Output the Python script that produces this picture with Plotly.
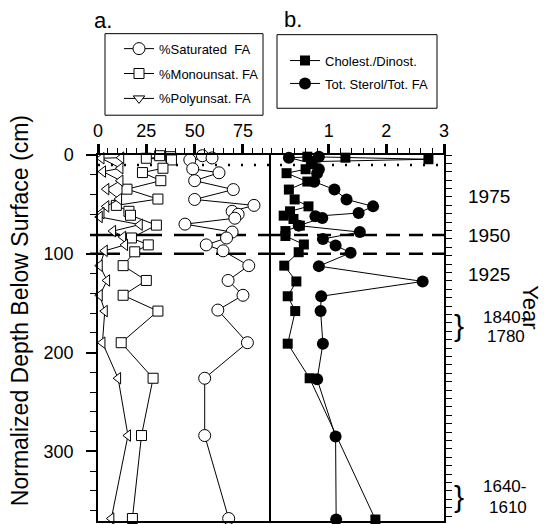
import plotly.graph_objects as go

# ---------------- data ----------------
sat_depth = [0.7, 3, 5, 14, 18, 26, 35, 45, 51, 57, 60, 64, 70, 78, 84, 91, 97, 112, 127, 142, 157, 190, 226, 284, 368]
sat_val = [54, 59, 47.5, 49, 62.6, 50, 70, 50, 80.7, 69.4, 72.5, 70.8, 45, 69.4, 66.5, 56, 64.7, 78, 67.3, 75, 62, 77.3, 55.2, 55.2, 67.6]

mono_depth = [0.7, 1.7, 3.3, 5, 13.4, 17.8, 26, 34.6, 44.6, 51, 57, 61, 71, 84, 91, 98, 112, 127, 142, 158, 190, 226, 284, 368]
mono_val = [31.9, 37.6, 25, 38, 33.6, 23, 32.5, 15, 31, 9.5, 16, 16.8, 30.2, 17.3, 26, 19, 13, 25, 13, 31, 12, 28.5, 22.5, 17.8]

poly_depth = [2.7, 3.3, 13.4, 16.8, 26, 34.6, 44.6, 52, 58.7, 62.7, 70.5, 77, 83, 91, 97, 112, 127, 142, 158, 190, 226, 284, 368]
poly_val = [12, 1.8, 11.6, 2.6, 11.6, 4.3, 10.9, 4.3, 1.8, 0.9, 21.6, 7.8, 13, 14, 3.5, 0.9, 4.7, 0.9, 3.5, 2.3, 10.4, 15.5, 6.9]

chol_depth = [1.7, 2.7, 4.3, 6.7, 14.4, 18.4, 26.9, 35, 45, 52, 57, 61.4, 64.8, 71.5, 77, 82, 90.6, 98.4, 112, 128, 143, 158, 191, 226, 369]
chol_val = [0.63, 1.29, 2.73, 0.71, 0.6, 0.27, 0.63, 0.31, 0.41, 0.65, 0.33, 0.22, 0.39, 0.5, 0.25, 0.25, 0.57, 0.48, 0.23, 0.44, 0.29, 0.42, 0.29, 0.67, 1.81]

ster_depth = [1.7, 2.7, 8.4, 14.4, 18.4, 27, 35, 45, 52, 58.7, 62, 63.7, 71.5, 78, 85, 91.6, 99, 112.5, 128, 143, 158, 191, 227, 285, 369]
ster_val = [0.83, 0.31, 0.71, 0.83, 0.8, 0.75, 1.1, 1.31, 1.77, 1.52, 0.77, 0.89, 0.48, 1.54, 0.9, 1.12, 1.38, 0.83, 2.63, 0.87, 0.86, 0.9, 0.8, 1.12, 1.13]

a_ticks = [0, 25, 50, 75]
b_ticks = [1, 2, 3]
depth_ticks = [0, 100, 200, 300]

year_labels = ["1975", "1950", "1925", "1840-", "1780", "1640-", "1610"]
year_depths = [42, 81.5, 121, 164, 184, 336, 357]
year_dx = [0, 0, 0, 15, 19, 15, 21]
brace_depths = [173, 346]

dotted_depth = 10
dashed_depths = [81, 100]

FONT = "Liberation Sans, Arial, Helvetica, sans-serif"

fig = go.Figure()

def open_trace(x, y, sym, name, showlegend=True, size=11):
    return go.Scatter(
        x=x, y=y, mode="lines+markers", name=name,
        line=dict(color="black", width=1),
        marker=dict(symbol=sym, size=size, color="white", line=dict(color="black", width=1)),
        xaxis="x", yaxis="y", cliponaxis=False, showlegend=showlegend,
        legend="legend", legendgroup=name,
    )

fig.add_trace(open_trace(sat_val, sat_depth, "circle", "%Saturated  FA", size=12))
fig.add_trace(open_trace(mono_val, mono_depth, "square", "%Monounsat. FA", size=10))
# legend-only entry (legend symbol differs from plotted marker)
fig.add_trace(open_trace([None], [None], "triangle-down", "%Polyunsat. FA", size=10))
fig.add_trace(open_trace(poly_val, poly_depth, "triangle-left", "poly", showlegend=False, size=10))

def filled_trace(x, y, sym, name, size):
    return go.Scatter(
        x=x, y=y, mode="lines+markers", name=name,
        line=dict(color="black", width=1),
        marker=dict(symbol=sym, size=size, color="black", line=dict(color="black", width=0)),
        xaxis="x2", yaxis="y2", cliponaxis=False,
        legend="legend2", legendgroup=name,
    )

fig.add_trace(filled_trace(chol_val, chol_depth, "square", "Cholest./Dinost.", 10))
fig.add_trace(filled_trace(ster_val, ster_depth, "circle", "Tot. Sterol/Tot. FA", 12))

L, R, T, B = 98, 100, 155, 1
W = 544 - L - R
H = 524 - T - B

def fx(px):
    return (px - L) / W

def fy(py):
    return (524 - B - py) / H

axis_common = dict(
    showline=True, linecolor="black", linewidth=1.5, showgrid=False, zeroline=False,
    ticks="outside", tickcolor="black", tickwidth=2.5, ticklen=9,
    tickfont=dict(family=FONT, size=18, color="black"),
)

fig.update_layout(
    width=544, height=524,
    margin=dict(l=L, r=R, t=T, b=B, pad=0),
    paper_bgcolor="white", plot_bgcolor="white",
    font=dict(family=FONT, color="black"),
    xaxis=dict(domain=[0, 0.5], range=[0, 89.5], side="top", anchor="y", mirror=True,
               tickmode="array", tickvals=a_ticks, ticklabelstandoff=0,
               minor=dict(dtick=5, tick0=0, ticks="outside", ticklen=5, tickwidth=1, tickcolor="black"),
               **axis_common),
    xaxis2=dict(domain=[0.5, 1], range=[0, 3], side="top", anchor="y2", mirror=True,
                tickmode="array", tickvals=b_ticks, ticklabelstandoff=0,
                minor=dict(dtick=0.2, tick0=0, ticks="outside", ticklen=5, tickwidth=1, tickcolor="black"),
                **axis_common),
    yaxis=dict(domain=[0, 1], range=[370.5, 0], anchor="x",
               tickmode="array", tickvals=depth_ticks, ticklabelstandoff=9,
               minor=dict(dtick=20, tick0=0, ticks="outside", ticklen=6, tickwidth=1, tickcolor="black"),
               **{**axis_common, "ticklen": 10, "tickwidth": 1.5}),
    yaxis2=dict(domain=[0, 1], range=[370.5, 0], anchor="x2", side="right", mirror=True,
                showline=True, linecolor="black", linewidth=1.5, showgrid=False, zeroline=False,
                ticks="outside", tickcolor="black", tickwidth=1, ticklen=6,
                tickmode="linear", tick0=0, dtick=8.5, showticklabels=False),
    legend=dict(x=fx(119), y=fy(33), xanchor="left", yanchor="top",
                font=dict(family=FONT, size=13, color="black"),
                bgcolor="rgba(0,0,0,0)", borderwidth=0, tracegroupgap=5, itemwidth=30),
    legend2=dict(x=fx(285), y=fy(45), xanchor="left", yanchor="top",
                 font=dict(family=FONT, size=13, color="black"),
                 bgcolor="rgba(0,0,0,0)", borderwidth=0, tracegroupgap=3, itemwidth=30),
)

shapes = []
# legend boxes
shapes.append(dict(type="rect", xref="paper", yref="paper", x0=fx(105), x1=fx(263), y0=fy(33), y1=fy(115),
                   line=dict(color="black", width=1), fillcolor="rgba(0,0,0,0)"))
shapes.append(dict(type="rect", xref="paper", yref="paper", x0=fx(277), x1=fx(437), y0=fy(34), y1=fy(108),
                   line=dict(color="black", width=1), fillcolor="rgba(0,0,0,0)"))
# dotted reference line
shapes.append(dict(type="line", xref="paper", yref="y", x0=0, x1=1, y0=dotted_depth, y1=dotted_depth,
                   line=dict(color="black", width=2.5, dash="2px,11px"), layer="below"))
for d in dashed_depths:
    shapes.append(dict(type="line", xref="paper", yref="y", x0=fx(90), x1=0.5, y0=d, y1=d,
                       line=dict(color="black", width=2.5, dash="30px,12px"), layer="below"))
    shapes.append(dict(type="line", xref="paper", yref="y2", x0=0.5, x1=1, y0=d, y1=d,
                       line=dict(color="black", width=2.5, dash="14px,9px"), layer="below"))
fig.update_layout(shapes=shapes)

ann = []
ann.append(dict(text="Normalized Depth Below Surface (cm)", xref="paper", yref="paper",
                x=fx(20), y=fy(312), xanchor="center", yanchor="middle", textangle=-90,
                showarrow=False, font=dict(family=FONT, size=23, color="black")))
ann.append(dict(text="Year", xref="paper", yref="paper", x=fx(531), y=fy(308),
                xanchor="center", yanchor="middle", textangle=90, showarrow=False,
                font=dict(family=FONT, size=22, color="black")))
ann.append(dict(text="a.", xref="paper", yref="paper", x=fx(92), y=fy(20), xanchor="left",
                yanchor="middle", showarrow=False, font=dict(family=FONT, size=22, color="black")))
ann.append(dict(text="b.", xref="paper", yref="paper", x=fx(282), y=fy(19), xanchor="left",
                yanchor="middle", showarrow=False, font=dict(family=FONT, size=22, color="black")))
for lab, d, dx in zip(year_labels, year_depths, year_dx):
    ann.append(dict(text=lab, xref="paper", yref="y", x=fx(466 + dx), y=d, xanchor="left",
                    yanchor="middle", showarrow=False,
                    font=dict(family=FONT, size=19 if dx == 0 else 17, color="black")))
for d in brace_depths:
    ann.append(dict(text="}", xref="paper", yref="y", x=fx(452), y=d, xanchor="left",
                    yanchor="middle", showarrow=False,
                    font=dict(family=FONT, size=30, color="black")))
fig.update_layout(annotations=ann)

fig.write_html("out.html", config={"displayModeBar": False},
               post_script="document.body.style.margin='0px';document.body.style.padding='0px';")
